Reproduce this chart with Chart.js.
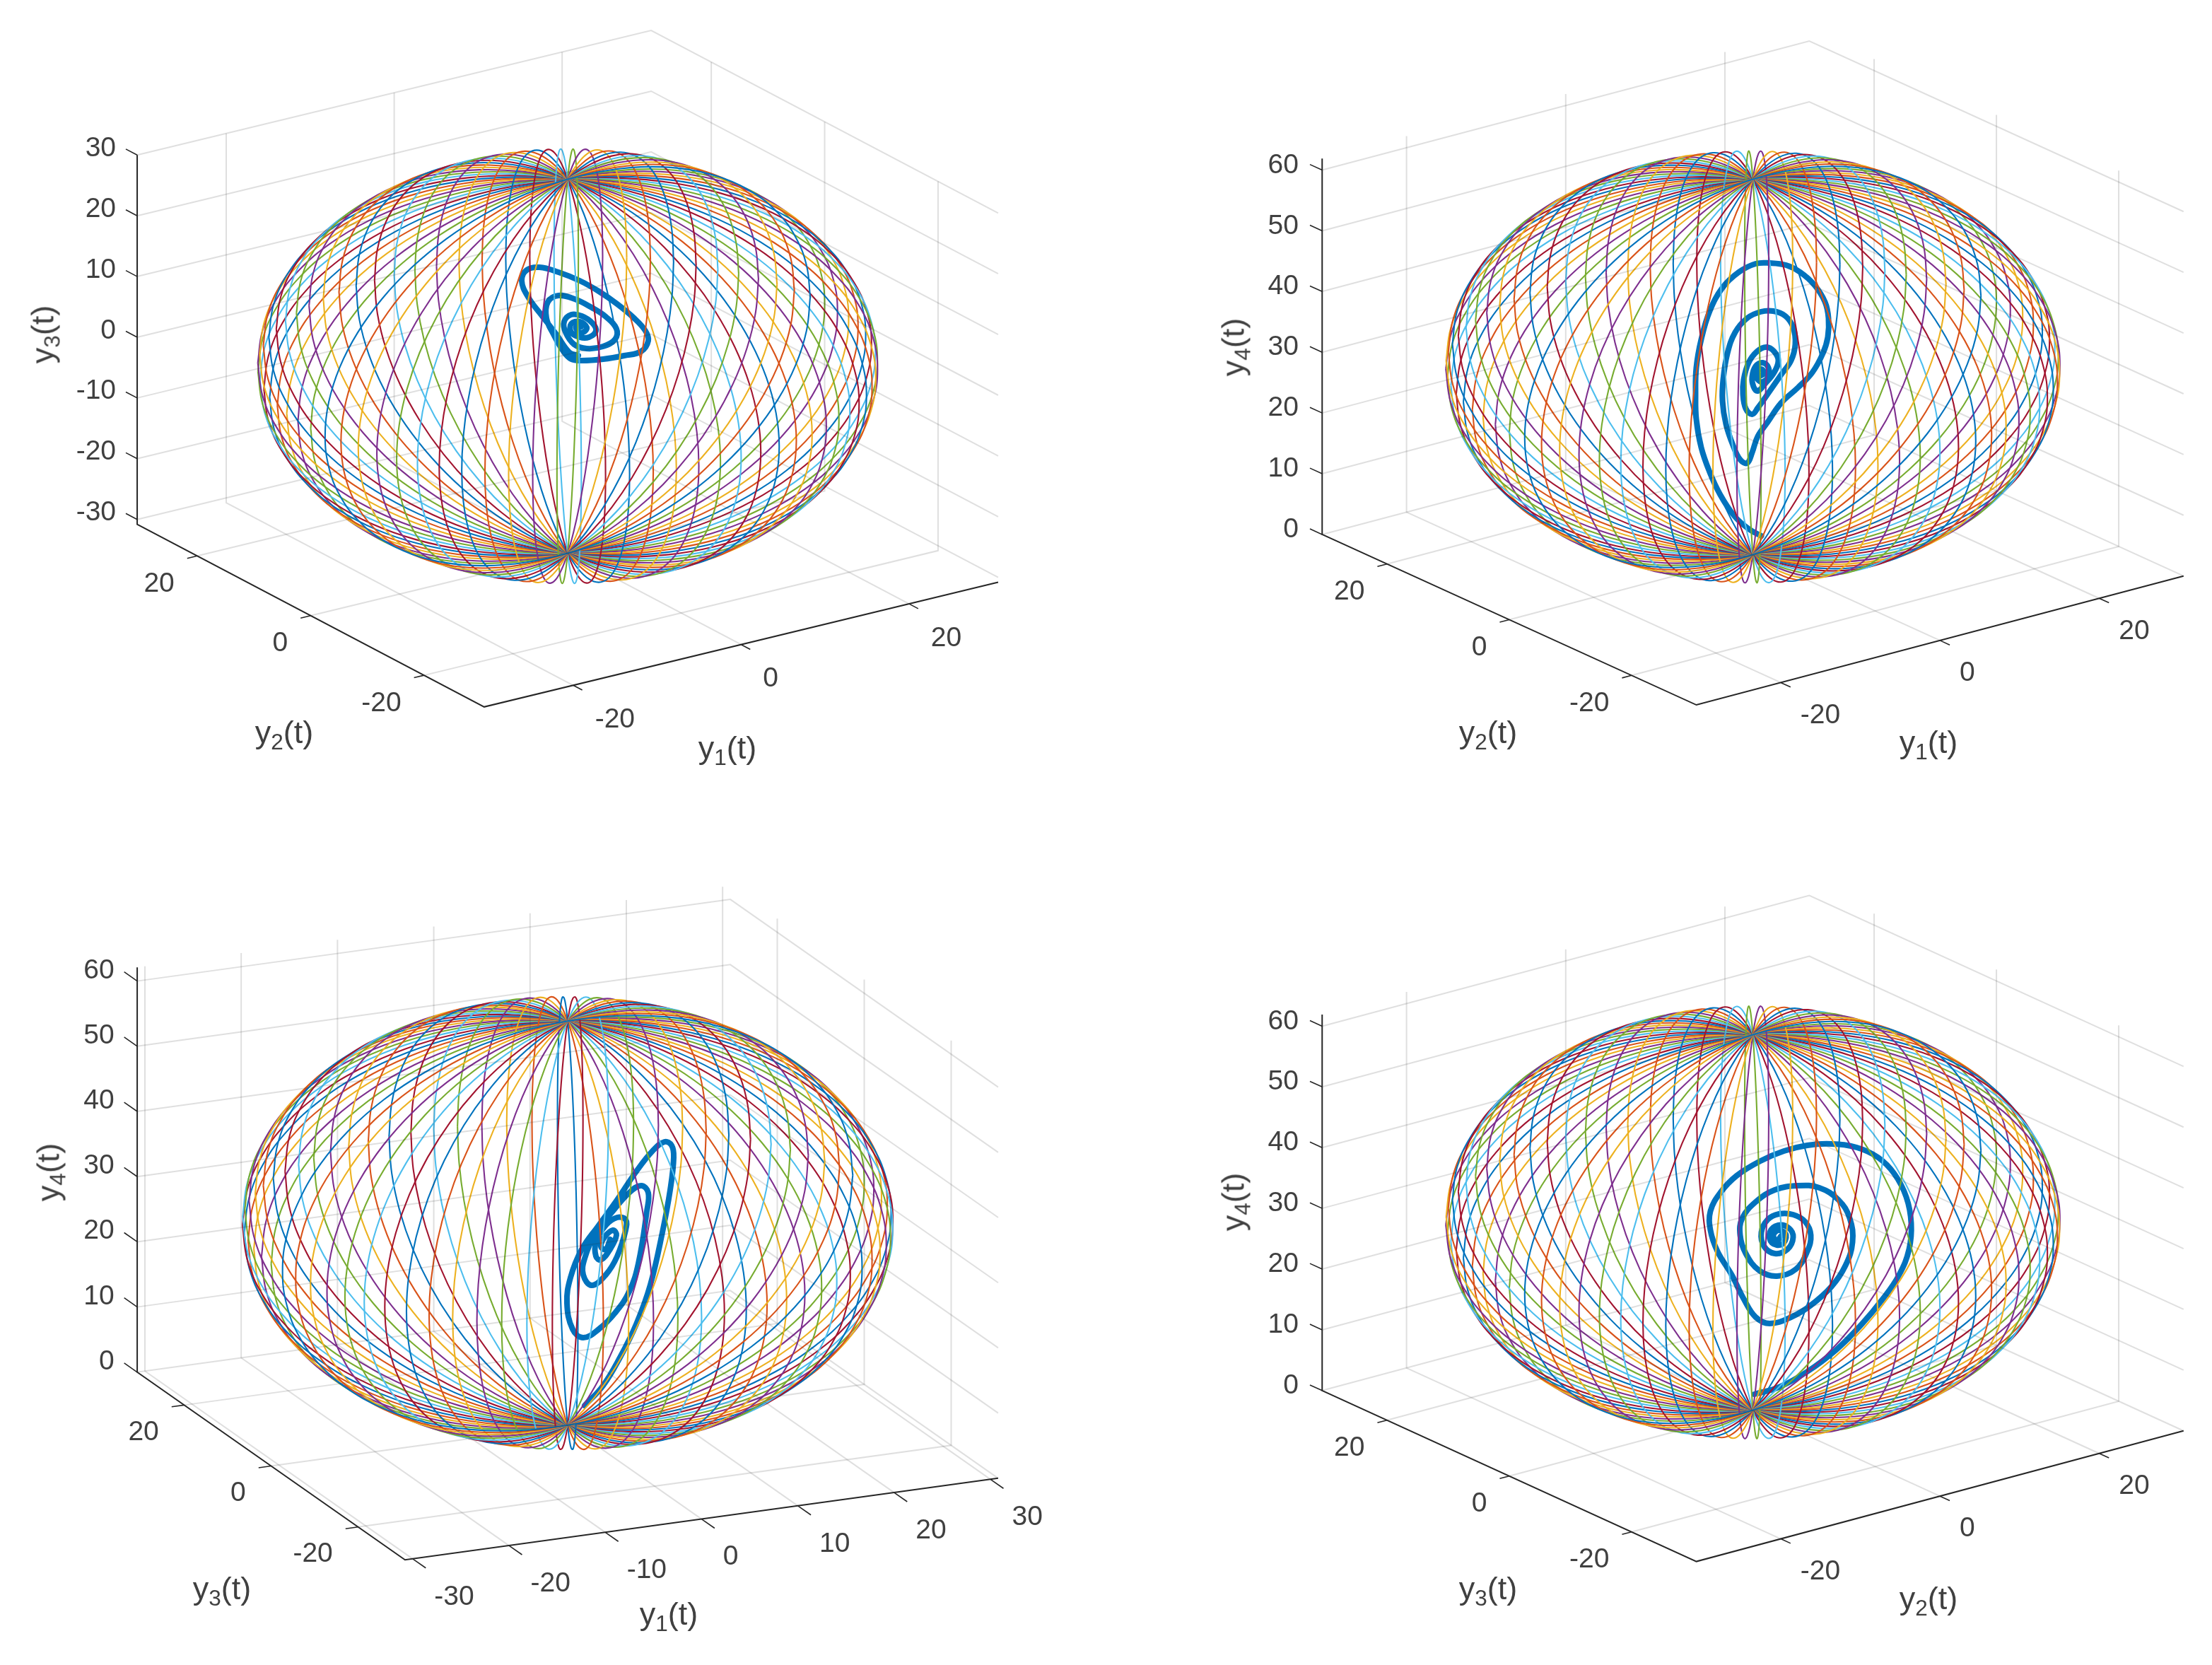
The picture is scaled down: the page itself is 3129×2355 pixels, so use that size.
<!DOCTYPE html>
<html><head><meta charset="utf-8">
<script src="https://cdn.jsdelivr.net/npm/chart.js@4/dist/chart.umd.min.js"></script>
<style>
html,body{margin:0;padding:0;background:#fff;width:3129px;height:2355px;overflow:hidden}
canvas{position:absolute}
.t{position:absolute;font-family:"Liberation Sans",Arial,sans-serif;font-size:39px;color:#404040;white-space:nowrap;line-height:1}
.l{font-size:45px}
.t sub{font-size:70%;vertical-align:baseline;position:relative;top:.3em;line-height:0}
</style></head><body>
<script>
// ---------- tick values ----------
const ticksWide=[-20,0,20];
const ticksTen=[-30,-20,-10,0,10,20,30];
const ticksHeight=[0,10,20,30,40,50,60];
// ---------- the colour order ----------
const lineColours=['#0072BD','#D95319','#EDB120','#7E2F8E','#77AC30','#4DBEEE','#A2142F'];
// ---------- thin closed curves: horizontal heading of each of the 40 curves ----------
const loopHeadingA=[.9969,.9877,.9724,.9511,.9239,.891,.8526,.809,.7604,.7071,.6494,.5878,.5225,.454,.3827,.309,.2334,.1564,.0785,0,-.0785,-.1564,-.2334,-.309,-.3827,-.454,-.5225,-.5878,-.6494,-.7071,-.7604,-.809,-.8526,-.891,-.9239,-.9511,-.9724,-.9877,-.9969,-1];
const loopHeadingB=[.0785,.1564,.2334,.309,.3827,.454,.5225,.5878,.6494,.7071,.7604,.809,.8526,.891,.9239,.9511,.9724,.9877,.9969,1,.9969,.9877,.9724,.9511,.9239,.891,.8526,.809,.7604,.7071,.6494,.5878,.5225,.454,.3827,.309,.2334,.1564,.0785,0];
// shared profile of every curve (fractions of the radius)
const loopReach=[1,.9848,.9397,.866,.766,.6428,.5,.342,.1736,0,-.1736,-.342,-.5,-.6428,-.766,-.866,-.9397,-.9848,-1,-.9848,-.9397,-.866,-.766,-.6428,-.5,-.342,-.1736,0,.1736,.342,.5,.6428,.766,.866,.9397,.9848,1];
const loopRise=[0,.1736,.342,.5,.6428,.766,.866,.9397,.9848,1,.9848,.9397,.866,.766,.6428,.5,.342,.1736,0,-.1736,-.342,-.5,-.6428,-.766,-.866,-.9397,-.9848,-1,-.9848,-.9397,-.866,-.766,-.6428,-.5,-.342,-.1736,0];
// ---------- thick trajectories, on each view plane ----------
const traj1U=[1.5,.2,-1.6,-3.6,-5.6,-6.5,-5.8,-4,-1.3,1.7,4.4,7,9.4,11,11.4,10.4,8,5,2,.5,-.6,-2,-3,-2.8,-1.3,1,3.4,5.4,6.9,6.7,5,2.7,.9,-.3,-.5,.5,2,3.5,4,3,1.7,.5,.5,1.7,2.7,2.2,1.4,1.2,1.9];
const traj1V=[1.5,2,4.5,7.1,9.8,12.1,13.6,14,13.3,12.1,10.6,8.8,6.8,5,3.6,2.1,1.5,1,.8,1,2.1,4.5,6.8,9.1,10,9.5,8.3,7,5.3,3.8,2.8,2.5,3.1,4.8,6.3,7.3,7.1,6.1,5,4.1,4.1,4.8,6,6.3,5.5,4.8,5,5.6,5.6];
const traj2U=[1.2,-.6,-2.6,-4.6,-6.1,-7.3,-8,-8.1,-8,-7.3,-6.1,-4.3,-2,.4,2.4,4.7,6.7,8.7,10.2,10.7,10.6,9.9,8.4,6.4,4,2.1,.7,-.1,-.8,-1.8,-2.8,-3.8,-4.3,-4.2,-3.6,-2.5,-.8,1.1,2.9,4.6,5.7,6,5.4,4,2.4,.7,-.1,-1,-1.4,-1.3,-.6,.6,1.9,3,3.6,3,1.7,.7,.1,-.1,.4,1.4,2.2,2.2,1.4,.7,.6,1.2,1.6,1];
const traj2V=[-23.9,-22.9,-21.1,-18.1,-14.9,-11.4,-7.4,-3.8,-.1,3.9,7.9,11.2,13.4,14.6,14.7,14.4,13.4,11.6,9.2,6.9,4.2,1.9,-.8,-2.9,-5.1,-7.8,-9.8,-12.1,-13.6,-13.1,-11.1,-8.1,-4.8,-1.8,1.9,4.9,6.9,7.8,7.9,7.2,5.6,3.2,.9,-1.1,-3.4,-5.8,-6.7,-5.9,-3.8,-1.8,.6,2.2,2.8,2.2,.9,-.8,-2.4,-3.4,-2.8,-1.4,.1,.6,-.1,-1.3,-2.1,-1.8,-.8,-.3,-.9,-1.3];
const traj3U=[2.4,5,7.4,9.7,11.7,13.4,14.5,15,14.7,13.7,12,9.7,7,4.4,2,.4,-.1,.7,2.2,4.4,6.7,8.7,10,11.2,11.4,10.4,8.7,6.4,4,2.4,2.2,3.4,5.4,7,8.2,8.2,7,5.4,4,4,4.7,6,6.9,6.4,5.2,4.7,5.4,6];
const traj3V=[-25.8,-23,-19,-14.3,-8.7,-1.3,4.7,9.3,11,11.5,10.2,7.3,3.3,-.3,-3.7,-7.7,-11.3,-15,-16.2,-15,-12.7,-9.7,-5.7,1.7,4.3,5.3,4.3,1.7,-1.3,-5,-7.3,-8.8,-7.3,-4.7,-1,.5,.8,-.3,-2.7,-4.7,-5.2,-3.7,-1.7,-1,-2,-3.3,-3.7,-2.3];
const traj4U=[.2,3.7,7.7,11.7,15.4,18.4,20.7,22.1,22.4,21.7,20,17.7,14.7,11.1,7.7,4.4,1.1,-2.3,-4.6,-6,-6,-5,-3,-1.3,.4,2.4,5.4,8.1,11.1,13.1,14.1,13.7,12.1,9.4,6.4,3.1,.4,-1.5,-1.8,-1,.9,3.4,6.1,7.7,8.2,7.4,5.7,3.7,2.1,1.2,1.6,3.1,4.9,5.7,5.1,3.6,2.4,2.7,4.1,4.7,3.7,2.9,3.4,4];
const traj4V=[-24.3,-23.3,-21.1,-18.1,-14.4,-10.8,-7.4,-3.8,-.1,3.6,6.9,9.2,10.6,11.1,10.9,10.1,8.7,6.6,4.2,1.6,-1.1,-4.1,-7.4,-10.8,-13.4,-14.3,-13.4,-11.8,-9.1,-6.1,-2.8,.6,3.2,4.9,5.2,4.6,2.9,.6,-1.8,-4.4,-6.8,-7.6,-6.6,-4.1,-1.8,.1,1.1,1.2,.4,-1.4,-3.4,-4.4,-3.8,-2.1,-.8,-.4,-1.4,-2.9,-3.1,-1.8,-1.1,-1.8,-2.6,-1.9];

// ---------- the four views (layout and projection, not data) ----------
const views=[
 {box:[0,0,1565,1178],centre:[803,518],mid:[0,0,0],a:[11.88,-2.88],b:[-8.02,-4.22],c:8.59,radius:30.6,radiusZ:30.8,
  aLim:[-30.6,30.6],bLim:[-30.6,30.6],zLim:[-30.8,30],aTicks:ticksWide,bTicks:ticksWide,zTicks:ticksTen,
  len:[1.6,1.2,2],aOff:[18,39],bOff:[-18,33],zOff:[-14,-4],u:traj1U,v:traj1V,
  labels:[['y','1',1029,1057,0],['y','2',402,1035,0],['y','3',60,473,1]]},
 {box:[1565,0,1564,1178],centre:[2479.5,519],mid:[0,0,31],a:[11.26,-2.98],b:[-8.65,-3.94],c:8.59,radius:30.6,radiusZ:30.9,
  aLim:[-30.6,30.6],bLim:[-30.6,30.6],zLim:[0,61.9],aTicks:ticksWide,bTicks:ticksWide,zTicks:ticksHeight,
  len:[1.6,1.2,2],aOff:[14,37],bOff:[-18,33],zOff:[-16,-2],u:traj2U,v:traj2V,
  labels:[['y','1',2728,1049,0],['y','2',2105,1035,0],['y','4',1744,491,1]]},
 {box:[0,1178,1565,1177],centre:[803,1730],mid:[0,0,31],a:[13.62,-1.875],b:[-6.15,-4.31],c:9.22,radius:30.8,radiusZ:31,
  aLim:[-30.8,30.8],bLim:[-30.8,30.8],zLim:[0,62.1],aTicks:ticksTen,bTicks:ticksWide,zTicks:ticksHeight,
  len:[3,1.3,3],aOff:[12,38],bOff:[-18,33],zOff:[-14,-5],u:traj3U,v:traj3V,
  labels:[['y','1',946,2282,0],['y','3',314,2246,0],['y','4',68,1658,1]]},
 {box:[1565,1178,1564,1177],centre:[2479.5,1729],mid:[0,0,31],a:[11.26,-3.02],b:[-8.65,-3.95],c:8.59,radius:30.6,radiusZ:30.9,
  aLim:[-30.6,30.6],bLim:[-30.6,30.6],zLim:[0,61.9],aTicks:ticksWide,bTicks:ticksWide,zTicks:ticksHeight,
  len:[1.6,1.2,2],aOff:[14,37],bOff:[-18,33],zOff:[-16,-2],u:traj4U,v:traj4V,
  labels:[['y','2',2728,2260,0],['y','3',2105,2246,0],['y','4',1744,1700,1]]}
];
const VIEW_UNIT=10; // page pixels per unit of a view plane
const GRID='rgba(38,38,38,.15)', INK='#262626', THICK='#0072BD';

function addText(html,x,y,align,cls){
  const d=document.createElement('div');
  d.className='t'+(cls?' '+cls:'');d.innerHTML=html;
  d.style.left=x+'px';d.style.top=y+'px';
  d.style.transform=align;
  document.body.appendChild(d);
}
views.forEach(v=>{
  const [L,T,W,H]=v.box,[cx,cy]=v.centre;
  const cv=document.createElement('canvas');
  cv.width=W;cv.height=H;cv.style.left=L+'px';cv.style.top=T+'px';cv.style.width=W+'px';cv.style.height=H+'px';
  document.body.appendChild(cv);
  const P=(A,B,Z)=>{
    const da=A-v.mid[0],db=B-v.mid[1],dz=Z-v.mid[2];
    return {x:(da*v.a[0]+db*v.b[0])/VIEW_UNIT,y:-(da*v.a[1]+db*v.b[1]-dz*v.c)/VIEW_UNIT};
  };
  const ds=[];
  const line=(pts,color,width)=>ds.push({data:pts,showLine:true,borderColor:color,borderWidth:width,pointRadius:0,tension:0,fill:false});
  const [a0,a1]=v.aLim,[b0,b1]=v.bLim,[z0,z1]=v.zLim;
  v.aTicks.forEach(t=>{line([P(t,b0,z0),P(t,b1,z0),P(t,b1,z1)],GRID,2);});
  v.bTicks.forEach(t=>{line([P(a0,t,z0),P(a1,t,z0),P(a1,t,z1)],GRID,2);});
  v.zTicks.forEach(t=>{line([P(a0,b1,t),P(a1,b1,t),P(a1,b0,t)],GRID,2);});
  loopHeadingA.forEach((ha,k)=>{
    const pts=loopReach.map((r,i)=>P(v.mid[0]+v.radius*r*ha,v.mid[1]+v.radius*r*loopHeadingB[k],v.mid[2]+v.radiusZ*loopRise[i]));
    ds.push({data:pts,showLine:true,borderColor:lineColours[k%lineColours.length],borderWidth:2.1,pointRadius:0,tension:.4,fill:false});
  });
  ds.push({data:v.u.map((u,i)=>({x:u,y:v.v[i]})),showLine:true,borderColor:THICK,borderWidth:8,pointRadius:0,tension:.4,fill:false,borderCapStyle:'round',borderJoinStyle:'round'});
  line([P(a0,b1,z1),P(a0,b1,z0),P(a0,b0,z0),P(a1,b0,z0)],INK,2);
  v.aTicks.forEach(t=>line([P(t,b0,z0),P(t,b0-v.len[0],z0)],INK,1.6));
  v.bTicks.forEach(t=>line([P(a0,t,z0),P(a0-v.len[1],t,z0)],INK,1.6));
  v.zTicks.forEach(t=>line([P(a0,b1,t),P(a0,b1+v.len[2],t)],INK,1.6));
  const chart=new Chart(cv,{type:'scatter',data:{datasets:ds},options:{
    responsive:false,animation:false,devicePixelRatio:1,
    layout:{padding:0},
    plugins:{legend:{display:false},tooltip:{enabled:false},title:{display:false}},
    scales:{
      x:{type:'linear',display:false,min:(L-cx)/VIEW_UNIT,max:(L+W-cx)/VIEW_UNIT},
      y:{type:'linear',display:false,min:(cy-T-H)/VIEW_UNIT,max:(cy-T)/VIEW_UNIT}
    }
  }});
  const px=p=>[L+chart.scales.x.getPixelForValue(p.x),T+chart.scales.y.getPixelForValue(p.y)];
  v.aTicks.forEach(t=>{const [x,y]=px(P(t,b0-v.len[0],z0));addText(String(t),x+v.aOff[0],y+v.aOff[1],'translate(0,-50%)');});
  v.bTicks.forEach(t=>{const [x,y]=px(P(a0-v.len[1],t,z0));addText(String(t),x+v.bOff[0],y+v.bOff[1],'translate(-100%,-50%)');});
  v.zTicks.forEach(t=>{const [x,y]=px(P(a0,b1+v.len[2],t));addText(String(t),x+v.zOff[0],y+v.zOff[1],'translate(-100%,-50%)');});
  v.labels.forEach(([b,s,x,y,rot])=>addText(b+'<sub>'+s+'</sub>(t)',x,y,rot?'translate(-50%,-50%) rotate(-90deg)':'translate(-50%,-50%)','l'));
});
</script>
</body></html>
